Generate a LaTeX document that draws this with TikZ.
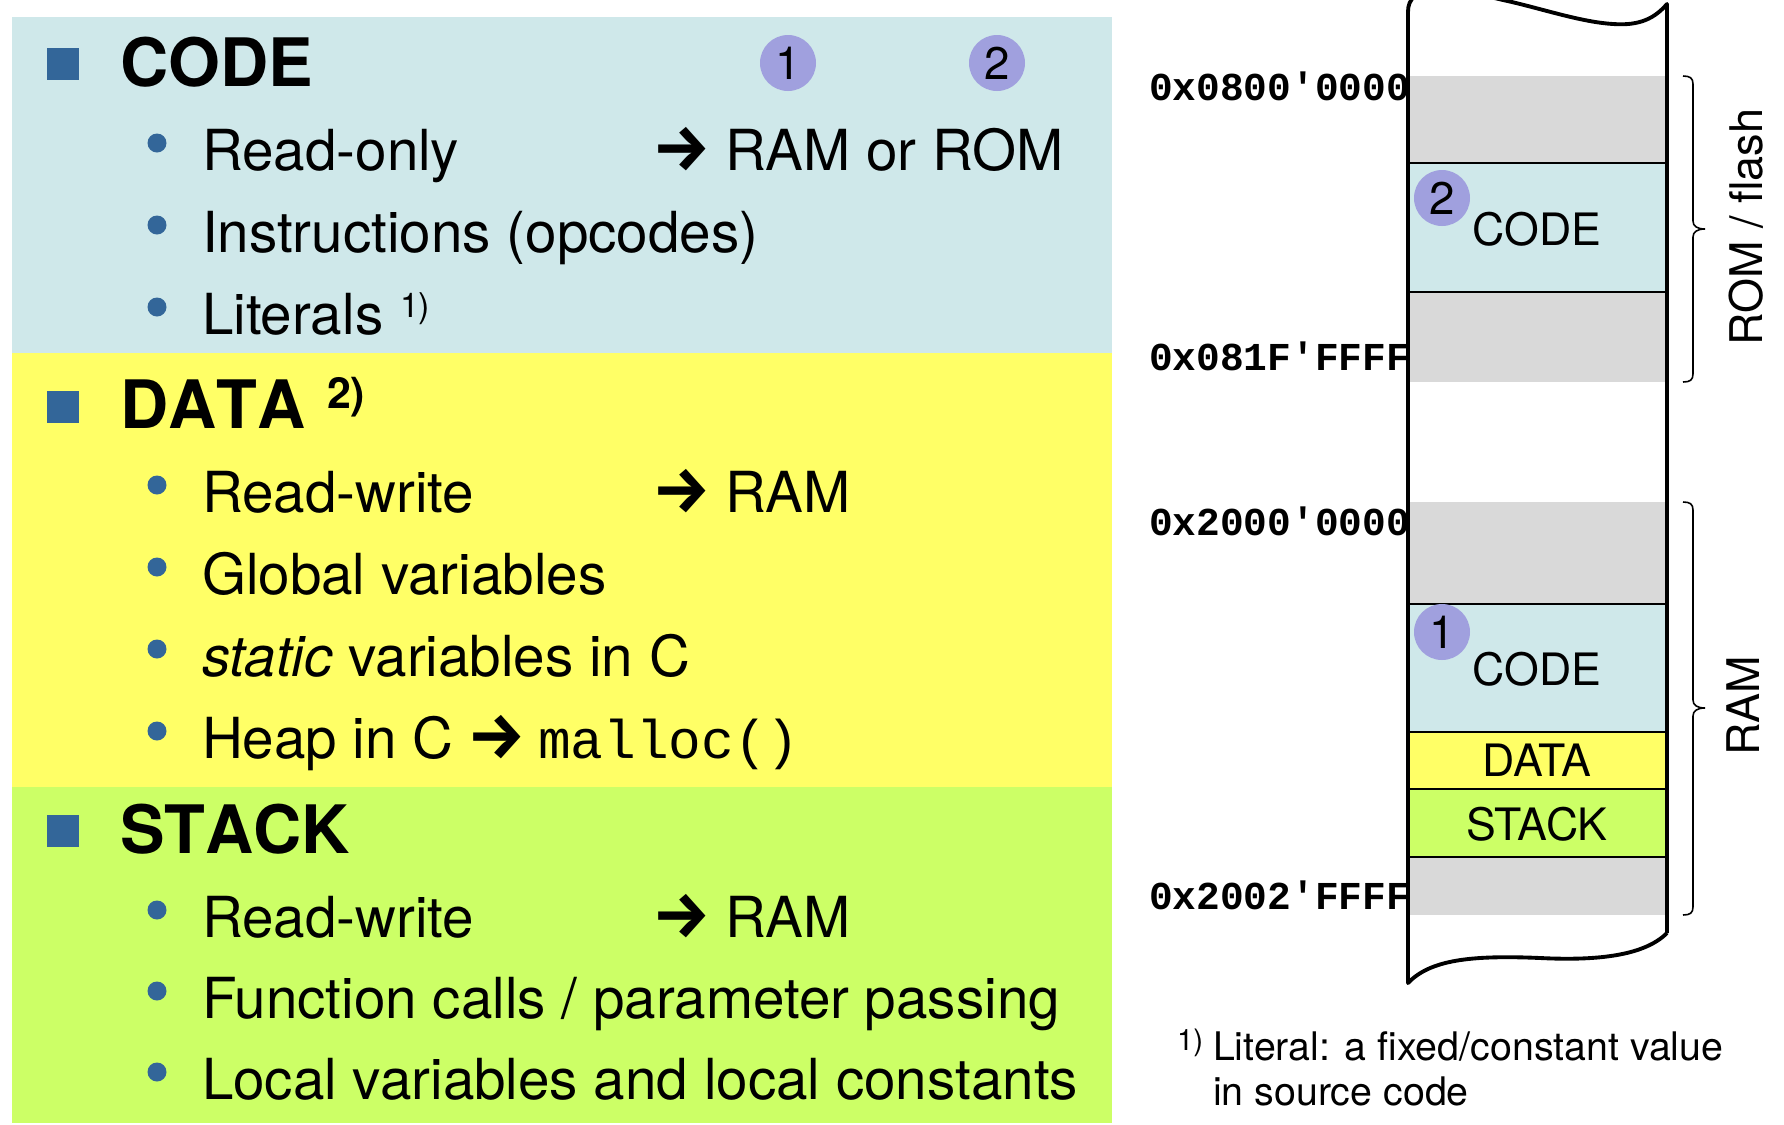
\documentclass[tikz,border=0pt]{standalone}
\usepackage{fontspec}
\setmainfont{TeX Gyre Heros}
\setmonofont{Liberation Mono}
\newfontfamily\arrowfont{Fira Sans}
\definecolor{codebg}{RGB}{207,232,234}
\definecolor{databg}{RGB}{255,255,102}
\definecolor{stackbg}{RGB}{204,255,102}
\definecolor{sqblue}{RGB}{51,102,153}
\definecolor{numpurple}{RGB}{160,160,222}
\definecolor{graybg}{RGB}{217,217,217}
\newcommand{\bigarrow}{{\arrowfont\bfseries →}}
\begin{document}
\begin{tikzpicture}[x=0.1mm,y=-0.1mm,
  txt/.style={inner sep=0pt, outer sep=0pt, anchor=base west},
  head/.style={txt, font=\fontsize{19}{22}\selectfont\bfseries\addfontfeatures{Kerning=Off}},
  body/.style={txt, font=\fontsize{16.1}{19}\selectfont},
  arr/.style={txt, font=\fontsize{18.5}{21}\selectfont},
  monob/.style={txt, font=\ttfamily\fontsize{15.5}{18}\selectfont},
  supr/.style={txt, font=\fontsize{9.7}{11}\selectfont},
  supbold/.style={txt, font=\fontsize{12.2}{14}\selectfont\bfseries},
  dotb/.style={circle, fill=sqblue, inner sep=0pt, minimum size=1.9mm},
  numc/.style={circle, fill=numpurple, inner sep=0pt, minimum size=5.6mm, font=\fontsize{13}{15}\selectfont},
  addr/.style={inner sep=0pt, outer sep=0pt, anchor=base east, font=\ttfamily\bfseries\fontsize{11.25}{13}\selectfont},
  collab/.style={inner sep=0pt, font=\fontsize{12.7}{14}\selectfont},
  sidelab/.style={inner sep=0pt, rotate=90, anchor=base, font=\fontsize{12.8}{15}\selectfont},
  foot/.style={txt, font=\fontsize{11.2}{13}\selectfont},
  bandline/.style={line width=0.6pt},
  colline/.style={line width=1.1pt, line join=round},
  braceline/.style={line width=0.45pt}
]
\useasboundingbox (0,0) rectangle (1784,1124);
\fill[white] (0,0) rectangle (1784,1124);

% ---------- left panel ----------
\fill[codebg] (12,17) rectangle (1112,353);
\fill[databg] (12,353) rectangle (1112,787);
\fill[stackbg] (12,787) rectangle (1112,1123);

\fill[sqblue] (47,48) rectangle (79,80);
\fill[sqblue] (47,391) rectangle (79,423);
\fill[sqblue] (47,815) rectangle (79,847);

% CODE
\node[head] (hcode) at (120,86) {CODE};
\node[numc] (hc1) at (788,63) {1};
\node[numc] (hc2) at (997,63) {2};
\node[dotb] (d11) at (157,143) {};
\node[dotb] (d12) at (157,225) {};
\node[dotb] (d13) at (157,307) {};
\node[body] (t11) at (202,170) {Read-only};
\node[arr] (a11) at (652,170) {\bigarrow};
\node[body] (r11) at (725,170) {RAM or ROM};
\node[body] (t12) at (202,252) {Instructions (opcodes)};
\node[body] (t13) at (202,334) {Literals};
\node[supr] (s13) at (400,317) {1)};

% DATA
\node[head] (hdata) at (120,428) {DATA};
\node[supbold] (s2) at (327,408) {2)};
\node[dotb] (d21) at (157,485) {};
\node[dotb] (d22) at (157,567) {};
\node[dotb] (d23) at (157,649) {};
\node[dotb] (d24) at (157,731) {};
\node[body] (t21) at (202,512) {Read-write};
\node[arr] (a21) at (652,512) {\bigarrow};
\node[body] (r21) at (725,512) {RAM};
\node[body] (t22) at (202,594) {Global variables};
\node[body] (t23) at (202,676) {\itshape static\upshape{} variables in C};
\node[body] (t24) at (202,758) {Heap in C};
\node[arr] (a24) at (467,758) {\bigarrow};
\node[monob] (m24) at (538,758) {malloc()};

% STACK
\node[head] (hstack) at (120,853) {STACK};
\node[dotb] (d31) at (157,910) {};
\node[dotb] (d32) at (157,991) {};
\node[dotb] (d33) at (157,1072) {};
\node[body] (t31) at (202,937) {Read-write};
\node[arr] (a31) at (652,937) {\bigarrow};
\node[body] (r31) at (725,937) {RAM};
\node[body] (t32) at (202,1018) {Function calls / parameter passing};
\node[body] (t33) at (202,1099) {Local variables and local constants};

% ---------- memory column ----------
\fill[graybg] (1408,76) rectangle (1667,163);
\fill[codebg] (1408,163) rectangle (1667,292);
\fill[graybg] (1408,292) rectangle (1667,382);
\fill[graybg] (1408,502) rectangle (1667,604);
\fill[codebg] (1408,604) rectangle (1667,732);
\fill[databg] (1408,732) rectangle (1667,789);
\fill[stackbg] (1408,789) rectangle (1667,857);
\fill[graybg] (1408,857) rectangle (1667,915);

\foreach \yy in {163,292,604,732,789,857}
  \draw[bandline] (1408,\yy) -- (1667,\yy);

\draw[colline] (1667,933) -- (1667,4)
  .. controls (1655,18) and (1640,26) .. (1613,24)
  .. controls (1580,22) and (1540,8) .. (1503,0)
  .. controls (1470,-8) and (1430,-14) .. (1415,-4)
  .. controls (1410,0) and (1408,5) .. (1408,12)
  -- (1408,983)
  .. controls (1430,960) and (1470,955) .. (1540,958)
  .. controls (1600,961) and (1645,955) .. (1667,933);

\node[collab] (lc2) at (1537,229) {CODE};
\node[numc] (cc2) at (1442,198) {2};
\node[collab] (lc1) at (1537,669) {CODE};
\node[numc] (cc1) at (1442,632) {1};
\node[collab] (ld) at (1537,760) {DATA};
\node[collab] (ls) at (1537,824) {STACK};

\node[addr] (ad1) at (1410,100) {0x0800'0000};
\node[addr] (ad2) at (1410,370) {0x081F'FFFF};
\node[addr] (ad3) at (1410,535) {0x2000'0000};
\node[addr] (ad4) at (1410,909) {0x2002'FFFF};

% braces
\draw[braceline] (1683,76) .. controls (1690,76) and (1693,78) .. (1693,84) -- (1693,221)
  .. controls (1693,226) and (1697,229) .. (1705,229)
  .. controls (1697,229) and (1693,232) .. (1693,237) -- (1693,374)
  .. controls (1693,380) and (1690,382) .. (1683,382);
\draw[braceline] (1683,502) .. controls (1690,502) and (1693,504) .. (1693,510) -- (1693,700)
  .. controls (1693,705) and (1697,708) .. (1705,708)
  .. controls (1697,708) and (1693,711) .. (1693,716) -- (1693,907)
  .. controls (1693,913) and (1690,915) .. (1683,915);

\node[sidelab] (rom) at (1762,227) {ROM / flash};
\node[sidelab] (ram) at (1759,706) {RAM};

% footnote
\node[txt, font=\fontsize{8.4}{10}\selectfont] (fs) at (1177,1050) {1)};
\node[foot] (fn1) at (1213,1060) {Literal: a fixed/constant value};
\node[foot] (fn2) at (1213,1105) {in source code};
\end{tikzpicture}
\end{document}
